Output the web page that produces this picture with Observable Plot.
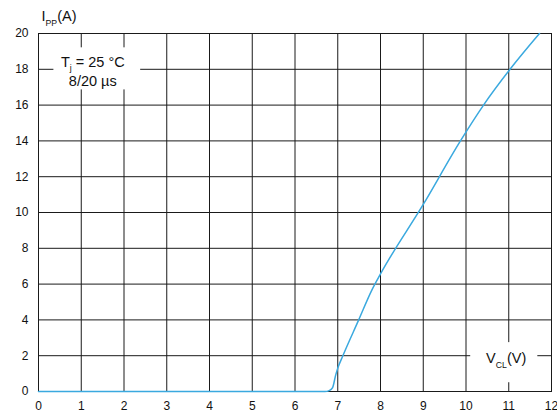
<!DOCTYPE html>
<html><head><meta charset="utf-8">
<script src="https://cdn.jsdelivr.net/npm/d3@7"></script>
<script src="https://cdn.jsdelivr.net/npm/@observablehq/plot@0.6"></script>
<style>body{margin:0;background:#fff}</style>
</head><body><div id="chart"></div>
<script>
const vcl = [0, 6.7, 6.8, 6.88, 6.95, 7.0, 7.12, 7.49, 7.8, 8.0, 9.0, 9.87, 10.41, 11.03, 11.72];
const ipp = [0, 0, 0.05, 0.22, 0.9, 1.3, 2, 4, 5.68, 6.57, 10.45, 14, 16, 18, 20];
const xTicks = [0,1,2,3,4,5,6,7,8,9,10,11,12];
const yTicks = [0,2,4,6,8,10,12,14,16,18,20];
const boxes = [
  {x1: 0.36, x2: 2.39, y1: 16.85, y2: 19.2},
  {x1: 10.11, x2: 11.68, y1: 0.49, y2: 2.73}
];
const notes = [
  {x: 1.27, y: 18.41, text: "T{j} = 25 °C"},
  {x: 1.27, y: 17.31, text: "8/20 µs"},
  {x: 10.94, y: 1.85, text: "V{CL}(V)"}
];
const data = vcl.map((v, i) => ({v, i: ipp[i]}));

const svg = Plot.plot({
  width: 557, height: 414,
  marginLeft: 38, marginRight: 6, marginTop: 33, marginBottom: 23,
  style: {fontFamily: "'Liberation Sans', Arial, sans-serif", fontSize: "12px", color: "#111", background: "#fff"},
  x: {domain: [0, 12], label: null},
  y: {domain: [0, 20], label: null},
  marks: [
    Plot.gridX(xTicks, {stroke: "#1a1a1a", strokeOpacity: 1, strokeWidth: 1}),
    Plot.gridY(yTicks, {stroke: "#1a1a1a", strokeOpacity: 1, strokeWidth: 1}),
    Plot.rect(boxes, {x1: "x1", x2: "x2", y1: "y1", y2: "y2", fill: "white"}),
    Plot.frame({stroke: "#1a1a1a", strokeWidth: 1}),
    Plot.axisX(xTicks, {tickSize: 0, tickPadding: 10, fontSize: 12}),
    Plot.axisY(yTicks, {tickSize: 0, tickPadding: 10, fontSize: 12}),
    Plot.line(data, {x: "v", y: "i", stroke: "#3aa9df", strokeWidth: 1.5, curve: "monotone-x"}),
    Plot.text(notes, {x: "x", y: "y", text: "text", fontSize: 14.5, fill: "#111"}),
    Plot.text([{x: 0, y: 20, text: "I{PP}(A)"}], {x: "x", y: "y", text: "text", fontSize: 14.5, textAnchor: "start", dx: 3, dy: -17, fill: "#111"})
  ]
});

d3.select(svg).selectAll("text").each(function () {
  const t = this.textContent;
  if (!t.includes("{")) return;
  const sel = d3.select(this);
  sel.text(null);
  let afterSub = false;
  t.split(/(\{[^}]*\})/).forEach(part => {
    if (!part) return;
    if (part.startsWith("{")) {
      sel.append("tspan").attr("font-size", "0.6em").attr("dy", "0.55em").text(part.slice(1, -1));
      afterSub = true;
    } else {
      const ts = sel.append("tspan").text(part);
      if (afterSub) ts.attr("dy", "-0.33em");
      afterSub = false;
    }
  });
});

document.getElementById("chart").appendChild(svg);
</script>
</body></html>
